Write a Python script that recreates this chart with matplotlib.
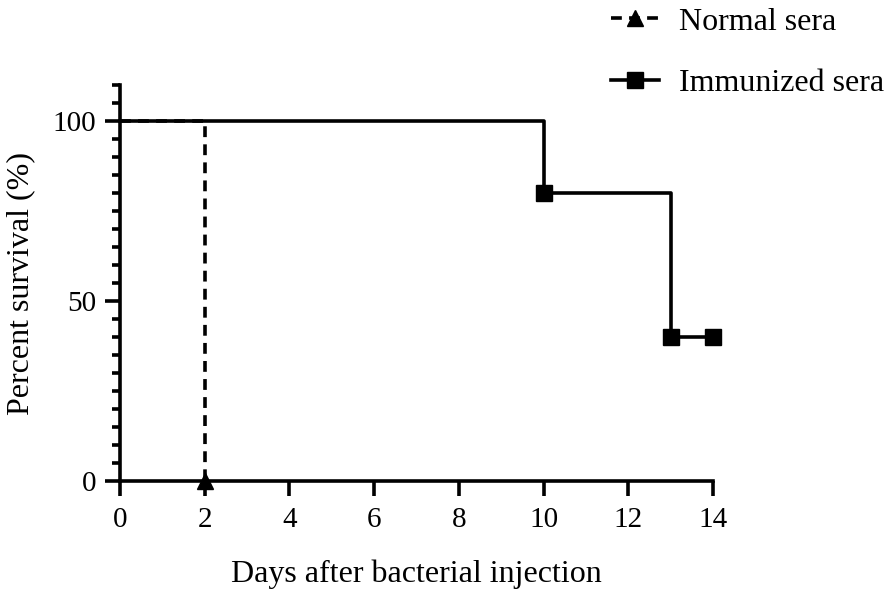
import matplotlib
matplotlib.use("Agg")
import matplotlib.pyplot as plt
from matplotlib.ticker import MultipleLocator

plt.rcParams['font.family'] = ['Liberation Serif', 'DejaVu Serif']

normal_days = [0, 2]
normal_surv = [100, 0]
immun_days = [0, 10, 13, 14]
immun_surv = [100, 80, 40, 40]
xticks = [0, 2, 4, 6, 8, 10, 12, 14]
yticks = [0, 50, 100]

fig = plt.figure(figsize=(8.91, 5.96), dpi=100)
ax = fig.add_axes([0.1347, 0.193, 0.8002 - 0.1347, 0.857 - 0.193])

lw = 2.6
ax.plot(normal_days, normal_surv, drawstyle='steps-post', color='black', lw=lw,
        ls=(0, (3, 2)), marker='^', markersize=11, markevery=[1], clip_on=False,
        label='Normal sera', zorder=3)
ax.plot(immun_days, immun_surv, drawstyle='steps-post', color='black', lw=lw,
        marker='s', markersize=12, markevery=[1, 2, 3], clip_on=False,
        label='Immunized sera', zorder=4)

ax.set_xlim(0, 14)
ax.set_ylim(0, 110)
ax.set_xticks(xticks)
ax.set_yticks(yticks)
ax.yaxis.set_minor_locator(MultipleLocator(5))
for s in ['top', 'right']:
    ax.spines[s].set_visible(False)
for s in ['left', 'bottom']:
    ax.spines[s].set_linewidth(lw)
ax.tick_params(which='major', length=11, width=lw, labelsize=21)
ax.tick_params(axis='x', which='major', pad=8)
ax.tick_params(axis='y', which='major', pad=6)
ax.tick_params(which='minor', length=6, width=lw)
ax.set_xlabel('Days after bacterial injection', fontsize=23, labelpad=19)
ax.set_ylabel('Percent survival (%)', fontsize=23, labelpad=13)

fig.legend(loc='upper left', bbox_to_anchor=(0.654, 1.036), frameon=False,
           fontsize=23, handlelength=1.5, handletextpad=0.62, labelspacing=1.0)

fig.savefig('out.png', dpi=100)
